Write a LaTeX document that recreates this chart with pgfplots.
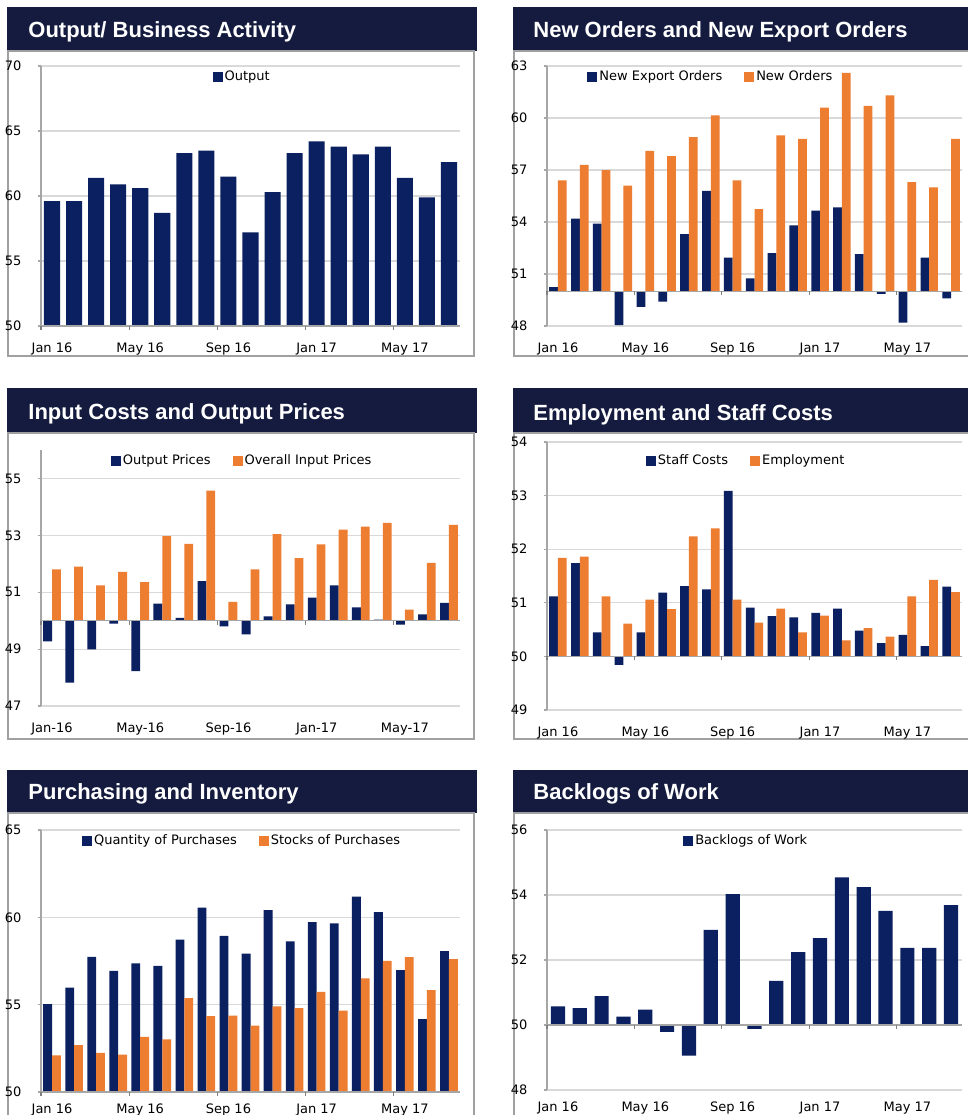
\documentclass[border=0pt]{standalone}
\usepackage{pgfplots}
\usepackage{pgfplotstable}
\pgfplotsset{compat=1.18}
\usepackage{fontspec}
\setmainfont{DejaVu Sans}
\newfontfamily\titlefont{Liberation Sans}
\definecolor{navy}{HTML}{0A2060}
\definecolor{orng}{HTML}{ED7D31}
\definecolor{titlebg}{HTML}{141B3F}
\definecolor{framegray}{HTML}{A0A0A0}
\definecolor{gridgray}{HTML}{D9D9D9}
\definecolor{axisgray}{HTML}{A6A6A6}

\pgfplotstableread{
x v
0 59.6
1 59.6
2 61.4
3 60.9
4 60.6
5 58.7
6 63.3
7 63.5
8 61.5
9 57.2
10 60.3
11 63.3
12 64.2
13 63.8
14 63.2
15 63.8
16 61.4
17 59.9
18 62.6
}\tOutput

\pgfplotstableread{
x a b
0 50.25 56.4
1 54.2 57.3
2 53.9 57.0
3 48.05 56.1
4 49.1 58.1
5 49.4 57.8
6 53.3 58.9
7 55.8 60.15
8 51.95 56.4
9 50.75 54.75
10 52.2 59.0
11 53.8 58.8
12 54.65 60.6
13 54.85 62.6
14 52.15 60.7
15 49.85 61.3
16 48.2 56.3
17 51.95 56.0
18 49.6 58.8
}\tOrders

\pgfplotstableread{
x a b
0 49.27 51.8
1 47.82 51.9
2 48.99 51.24
3 49.9 51.72
4 48.23 51.36
5 50.6 52.97
6 50.1 52.7
7 51.39 54.57
8 49.8 50.66
9 49.52 51.8
10 50.15 53.04
11 50.57 52.2
12 50.81 52.68
13 51.24 53.2
14 50.47 53.31
15 50.04 53.44
16 49.86 50.39
17 50.22 52.03
18 50.63 53.37
}\tPrices

\pgfplotstableread{
x a b
0 51.12 51.84
1 51.74 51.86
2 50.45 51.12
3 49.84 50.61
4 50.45 51.06
5 51.19 50.88
6 51.31 52.24
7 51.25 52.39
8 53.09 51.06
9 50.91 50.63
10 50.75 50.89
11 50.73 50.45
12 50.81 50.76
13 50.89 50.3
14 50.48 50.53
15 50.25 50.37
16 50.4 51.12
17 50.19 51.43
18 51.3 51.2
}\tEmploy

\pgfplotstableread{
x a b
0 55.03 52.1
1 55.98 52.68
2 57.74 52.24
3 56.94 52.14
4 57.36 53.15
5 57.22 53.02
6 58.73 55.37
7 60.55 54.34
8 58.94 54.38
9 57.93 53.8
10 60.41 54.91
11 58.62 54.8
12 59.73 55.73
13 59.65 54.66
14 61.18 56.5
15 60.3 57.51
16 56.98 57.72
17 54.17 55.83
18 58.06 57.61
}\tPurch

\pgfplotstableread{
x v
0 50.57
1 50.52
2 50.89
3 50.26
4 50.47
5 49.79
6 49.06
7 52.93
8 54.03
9 49.88
10 51.36
11 52.24
12 52.67
13 54.54
14 54.24
15 53.51
16 52.37
17 52.37
18 53.69
}\tBacklog

\pgfplotsset{
  panel/.style={
    scale only axis, width=209.5pt, clip=false,
    xmin=-0.5, xmax=18.5,
    xtick={0,4,8,12,16},
    xticklabels={Jan 16,May 16,Sep 16,Jan 17,May 17},
    xtick style={draw=none},
    ytick style={draw=axisgray, line width=0.6pt},
    tick align=outside, major tick length=1.5pt,
    xtick pos=bottom, ytick pos=left,
    axis x line*=bottom, axis y line*=left,
    x axis line style={draw=gridgray,-},
    y axis line style={draw=axisgray,-, line width=0.6pt},
    ymajorgrids, grid style={draw=gridgray, line width=0.6pt},
    tick label style={font=\fontsize{6.5}{7}\selectfont, text=black},
    yticklabel style={xshift=-4.8pt},
    y filter/.expression={y-50},
    ybar,
    legend columns=2,
    legend style={draw=none, fill=none, font=\fontsize{6.5}{7}\selectfont,
      inner sep=0pt, anchor=north, at={(0.48,1)}, yshift=-1pt,
      nodes={inner sep=1pt},
      /tikz/every even column/.append style={column sep=10pt}},
  },
  sqnavy/.style={legend image code/.code={\fill[navy] (0pt,-2.5pt) rectangle (5pt,2.5pt);}},
  sqorng/.style={legend image code/.code={\fill[orng] (0pt,-2.5pt) rectangle (5pt,2.5pt);}},
  navybar/.style={fill=navy, draw=none, sqnavy},
  orngbar/.style={fill=orng, draw=none, sqorng},
}
\newcommand\baseline{%
  \draw[axisgray, line width=0.6pt] (axis cs:-0.5,0) -- (axis cs:18.5,0);
  \pgfplotsinvokeforeach{-0.5,3.5,7.5,11.5,15.5}{\draw[gray, line width=0.6pt] (axis cs:##1,0) -- ([yshift=-2pt]axis cs:##1,0);}%
}
\newcommand\paneltitle[3]{%
  \node[anchor=base west, text=white, inner sep=0pt, font=\titlefont\bfseries\fontsize{11}{13}\selectfont] at (#1,#2) {#3};}

\begin{document}
\begin{tikzpicture}[x=0.5pt,y=-0.5pt]
\fill[white] (0,0) rectangle (968,1115);
\useasboundingbox (0,0) rectangle (968,1115);

% title bars and frames
\foreach \ya/\yb/\yc in {7/51/356, 388/433/739, 770/813/1130}{
  \fill[titlebg] (7,\ya) rectangle (477,\yb);
  \draw[framegray, line width=0.75pt] (8,\yb) rectangle (474,\yc);
  \fill[titlebg] (513,\ya) rectangle (980,\yb);
  \draw[framegray, line width=0.75pt] (514,\yb) rectangle (985,\yc);
}
\paneltitle{28}{37}{Output/ Business Activity}
\paneltitle{533}{37}{New Orders and New Export Orders}
\paneltitle{28}{419}{Input Costs and Output Prices}
\paneltitle{533}{420}{Employment and Staff Costs}
\paneltitle{28}{799}{Purchasing and Inventory}
\paneltitle{533}{799}{Backlogs of Work}

\coordinate (P1) at (41,326);
\coordinate (P2) at (547,326);
\coordinate (P3) at (41,706);
\coordinate (P4) at (547,710);
\coordinate (P5) at (41,1092);
\coordinate (P6) at (547,1090);

% Panel 1
\begin{axis}[panel, at={(P1)}, anchor=south west, height=130pt,
  xticklabel style={yshift=-3.3pt},
  ymin=0, ymax=20, ytick={0,5,10,15,20}, yticklabels={50,55,60,65,70}]
\addplot[navybar, bar width=0.73, bar shift=0] table[x=x,y=v] {\tOutput};
\addlegendentry{Output}
\baseline
\end{axis}

% Panel 2
\begin{axis}[panel, at={(P2)}, anchor=south west, width=207.5pt, height=130pt,
  xticklabel style={yshift=-3.3pt},
  ymin=-2, ymax=13, ytick={-2,1,4,7,10,13}, yticklabels={48,51,54,57,60,63},
  legend style={at={(0.395,1)}}]
\addplot[navybar, bar width=0.4, bar shift=-0.2] table[x=x,y=a] {\tOrders};
\addlegendentry{New Export Orders}
\addplot[orngbar, bar width=0.4, bar shift=0.2] table[x=x,y=b] {\tOrders};
\addlegendentry{New Orders}
\baseline
\end{axis}

% Panel 3
\begin{axis}[panel, at={(P3)}, anchor=south west, height=128pt,
  xticklabel style={yshift=-3.3pt},
  ymin=-3, ymax=6, ytick={-3,-1,1,3,5}, yticklabels={47,49,51,53,55},
  xticklabels={Jan-16,May-16,Sep-16,Jan-17,May-17}]
\addplot[navybar, bar width=0.4, bar shift=-0.2] table[x=x,y=a] {\tPrices};
\addlegendentry{Output Prices}
\addplot[orngbar, bar width=0.4, bar shift=0.2] table[x=x,y=b] {\tPrices};
\addlegendentry{Overall Input Prices}
\baseline
\end{axis}

% Panel 4
\begin{axis}[panel, at={(P4)}, anchor=south west, width=207.5pt, height=134pt,
  xticklabel style={yshift=-3.3pt},
  ymin=-1, ymax=4, ytick={-1,0,1,2,3,4}, yticklabels={49,50,51,52,53,54},
  legend style={yshift=-4pt}]
\addplot[navybar, bar width=0.4, bar shift=-0.2] table[x=x,y=a] {\tEmploy};
\addlegendentry{Staff Costs}
\addplot[orngbar, bar width=0.4, bar shift=0.2] table[x=x,y=b] {\tEmploy};
\addlegendentry{Employment}
\baseline
\end{axis}

% Panel 5
\begin{axis}[panel, at={(P5)}, anchor=south west, height=131pt,
  ymin=0, ymax=15, ytick={0,5,10,15}, yticklabels={50,55,60,65},
  xticklabel style={yshift=-0.8pt}]
\addplot[navybar, bar width=0.4, bar shift=-0.2] table[x=x,y=a] {\tPurch};
\addlegendentry{Quantity of Purchases}
\addplot[orngbar, bar width=0.4, bar shift=0.2] table[x=x,y=b] {\tPurch};
\addlegendentry{Stocks of Purchases}
\baseline
\end{axis}

% Panel 6
\begin{axis}[panel, at={(P6)}, anchor=south west, width=207.5pt, height=130pt,
  ymin=-2, ymax=6, ytick={-2,0,2,4,6}, yticklabels={48,50,52,54,56},
  xticklabel style={yshift=-0.8pt}]
\addplot[navybar, bar width=0.65, bar shift=0] table[x=x,y=v] {\tBacklog};
\addlegendentry{Backlogs of Work}
\baseline
\end{axis}
\end{tikzpicture}
\end{document}
